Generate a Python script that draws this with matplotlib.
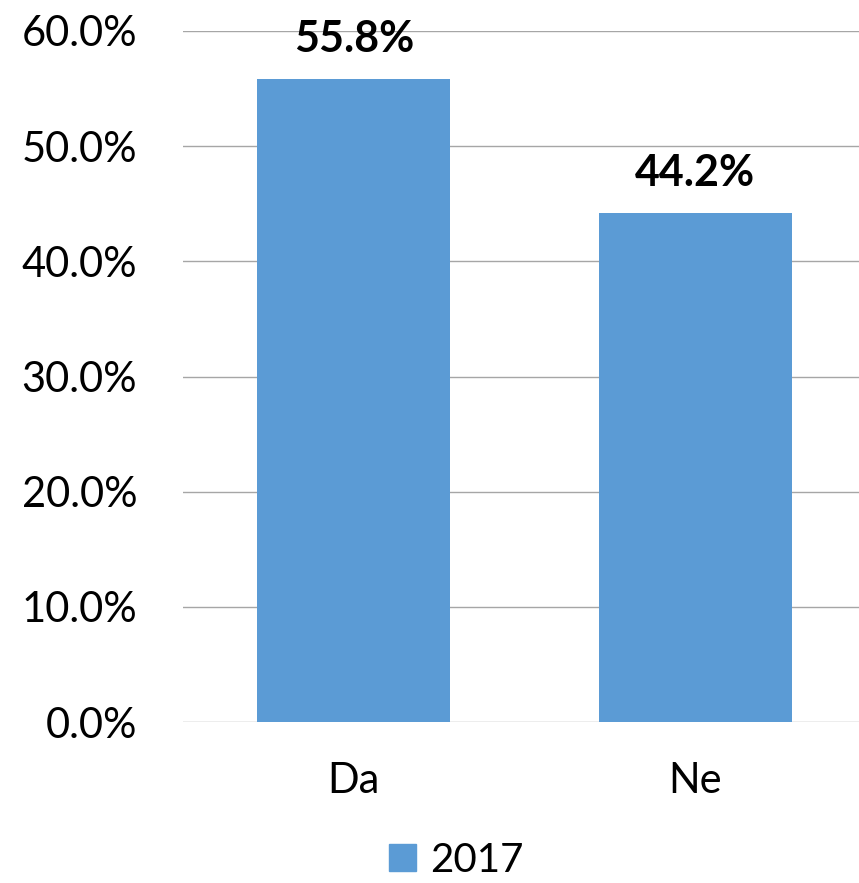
import matplotlib
matplotlib.use("Agg")
import matplotlib.pyplot as plt
from matplotlib.ticker import FuncFormatter
from matplotlib.patches import Patch

categories = ["Da", "Ne"]
values = [55.8, 44.2]
series_name = "2017"
yticks = [0, 10, 20, 30, 40, 50, 60]

plt.rcParams['font.family'] = ['Lato', 'DejaVu Sans']

W, H = 859, 883
fig = plt.figure(figsize=(W/100, H/100), dpi=100)
ax = fig.add_axes([183/W, 161/H, (859-183)/W, (722-31)/H])

color = "#5B9BD5"
x = list(range(len(categories)))
bars = ax.bar(x, values, width=0.565, color=color, zorder=3)
for xi, v in zip(x, values):
    ax.text(xi, v + 2.35, f"{v:.1f}%", ha="center", va="baseline",
            fontsize=31, fontweight="bold", color="black")

ax.set_xlim(-0.5, -0.5 + (859-183)/341.5)
ax.set_ylim(0, 60)
ax.set_yticks(yticks)
ax.yaxis.set_major_formatter(FuncFormatter(lambda v, p: f"{v:.1f}%"))
ax.set_xticks(x)
ax.set_xticklabels(categories)
ax.tick_params(axis="both", length=0, labelsize=30, colors="black")
ax.tick_params(axis="y", pad=33)
ax.tick_params(axis="x", pad=29)
for s in ax.spines.values():
    s.set_visible(False)
ax.grid(axis="y", color="#A6A6A6", linewidth=1.0, zorder=0)
ax.set_axisbelow(True)

fig.legend(handles=[Patch(color=color, label=series_name)],
           loc="center", bbox_to_anchor=(456/W, 1-860/H), frameon=False,
           fontsize=29, handlelength=0.68, handleheight=0.68, handletextpad=0.35,
           borderpad=0)

fig.savefig("out.png", dpi=100)
